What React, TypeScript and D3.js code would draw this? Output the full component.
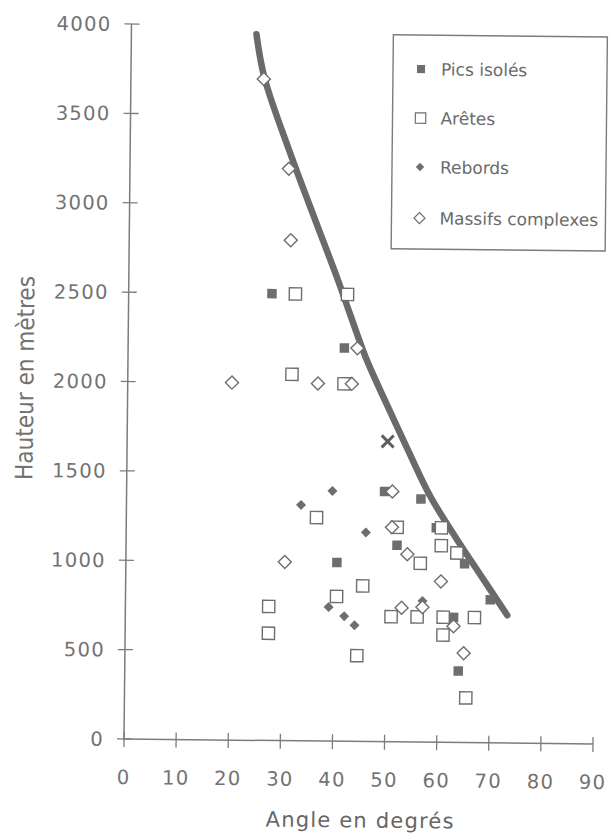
import React from "react";
import * as d3 from "d3";

const W = 610;
const H = 837;
const margin = { top: 24, right: 17, bottom: 98, left: 124 };

// tick labels
const xTicks = [0, 10, 20, 30, 40, 50, 60, 70, 80, 90];
const yTicks = [0, 500, 1000, 1500, 2000, 2500, 3000, 3500, 4000];

// [angle en degrés, hauteur en mètres]
const picsIsoles = [
  [27.5, 2500], [41.5, 2200], [49.5, 1400], [56.5, 1360], [59.5, 1200],
  [52, 1100], [40.5, 1000], [65, 1000], [70, 800], [63, 700], [64, 400],
];
const aretes = [
  [32, 2500], [42, 2500], [31.5, 2050], [41.5, 2000], [36.5, 1250],
  [52, 1200], [60.5, 1200], [60.5, 1100], [63.5, 1060], [56.5, 1000],
  [45.5, 870], [40.5, 810], [27.5, 750], [27.5, 600], [51, 700],
  [56, 700], [61, 700], [67, 700], [61, 600], [44.5, 480], [65.5, 250],
];
const rebords = [
  [39.5, 1400], [33.5, 1320], [46, 1170], [57, 790], [39, 750],
  [42, 700], [44, 650],
];
const massifs = [
  [25.5, 3700], [30.5, 3200], [31, 2800], [44, 2200], [20, 2000],
  [36.5, 2000], [43, 2000], [51, 1400], [51, 1200], [54, 1050],
  [30.5, 1000], [60.5, 900], [53, 750], [57, 755], [63, 650], [65, 500],
];
const croix = [[50, 1680]];

// courbe enveloppe tracée à la main
const enveloppe = [
  [24, 3950], [25.6, 3710], [30.8, 3280], [40, 2590], [42.4, 2400],
  [45.6, 2150], [49.3, 1915], [53.8, 1640], [58.2, 1380], [63.4, 1140],
  [68.5, 920], [73.3, 715],
];

const legendLabels = ["Pics isolés", "Arêtes", "Rebords", "Massifs complexes"];

const grey = "#6e6e6e";
const axisGrey = "#7c7c7c";
const textGrey = "#727272";

// square rotated by 45°, size = width squared
const diamond = {
  draw(ctx: any, size: number) {
    const r = Math.sqrt(size) / 2;
    ctx.moveTo(0, -r);
    ctx.lineTo(r, 0);
    ctx.lineTo(0, r);
    ctx.lineTo(-r, 0);
    ctx.closePath();
  },
};

const symFilledSquare = d3.symbol(d3.symbolSquare, 90)();
const symOpenSquare = d3.symbol(d3.symbolSquare, 150)();
const symFilledDiamond = d3.symbol(diamond as any, 100)();
const symOpenDiamond = d3.symbol(diamond as any, 170)();

const styles = [
  { path: symFilledSquare, fill: grey, stroke: "none" },
  { path: symOpenSquare, fill: "#fff", stroke: grey },
  { path: symFilledDiamond, fill: grey, stroke: "none" },
  { path: symOpenDiamond, fill: "#fff", stroke: grey },
];

export default function App() {
  const x = d3.scaleLinear().domain([0, 90]).range([margin.left, W - margin.right]);
  const y = d3.scaleLinear().domain([0, 4000]).range([H - margin.bottom, margin.top]);

  const line = d3
    .line()
    .x((d) => x(d[0]))
    .y((d) => y(d[1]))
    .curve(d3.curveCatmullRom);

  const x0 = x(0);
  const y0 = y(0);

  const drawSeries = (data: number[][], s: any, key: string) =>
    data.map((d, i) => (
      <path
        key={key + i}
        d={s.path}
        transform={`translate(${x(d[0])},${y(d[1])})`}
        fill={s.fill}
        stroke={s.stroke}
        strokeWidth={1.4}
      />
    ));

  return (
    <svg
      width={W}
      height={H}
      style={{ position: "absolute", left: 0, top: 0, background: "#fff" }}
      fontFamily="'DejaVu Sans', sans-serif"
    >
      <rect width={W} height={H} fill="#fff" />
      <g transform={`rotate(0.6 ${x0} ${y0})`}>
        {/* axes */}
        <line x1={x0} x2={x0} y1={y(4000)} y2={y0} stroke={axisGrey} strokeWidth={1.5} />
        <line x1={x0} x2={x(90)} y1={y0} y2={y0} stroke={axisGrey} strokeWidth={1.5} />
        {yTicks.map((t) => (
          <g key={"y" + t} transform={`translate(0,${y(t)})`}>
            <line x1={x0 - 7} x2={x0 + 8} stroke={axisGrey} strokeWidth={1.3} />
            <text
              x={x0 - 20}
              dy="0.36em"
              textAnchor="end"
              fontSize={19.5}
              letterSpacing={1.3}
              fill={textGrey}
            >
              {t}
            </text>
          </g>
        ))}
        {xTicks.map((t) => (
          <g key={"x" + t} transform={`translate(${x(t)},0)`}>
            <line y1={y0 - 7} y2={y0 + 8} stroke={axisGrey} strokeWidth={1.3} />
            <text
              y={y0 + 38}
              dy="0.36em"
              textAnchor="middle"
              fontSize={19.5}
              letterSpacing={1.3}
              fill={textGrey}
            >
              {t}
            </text>
          </g>
        ))}
        <text
          x={361}
          y={825}
          textAnchor="middle"
          fontSize={21}
          letterSpacing={1.2}
          fill="#666"
        >
          Angle en degrés
        </text>
        <text
          transform="translate(21,379) rotate(-90)"
          dy="0.36em"
          textAnchor="middle"
          fontFamily="'Liberation Sans Narrow', 'DejaVu Sans Condensed', sans-serif"
          fontSize={24}
          fill={textGrey}
        >
          Hauteur en mètres
        </text>

        {/* courbe */}
        <path
          d={line(enveloppe as any) || ""}
          fill="none"
          stroke="#6a6a6a"
          strokeWidth={6.5}
          strokeLinecap="round"
        />

        {drawSeries(picsIsoles, styles[0], "p")}
        {drawSeries(rebords, styles[2], "r")}
        {drawSeries(aretes, styles[1], "a")}
        {drawSeries(massifs, styles[3], "m")}
        {croix.map((d, i) => (
          <g key={"c" + i} transform={`translate(${x(d[0])},${y(d[1])})`}>
            <path d="M-6,-6L6,6M-6,6L6,-6" stroke="#5e5e5e" strokeWidth={3} />
          </g>
        ))}

        {/* légende */}
        <rect x={386} y={32} width={214} height={214} fill="#fff" stroke={axisGrey} strokeWidth={1.4} />
        {legendLabels.map((l, i) => {
          const ly = [66, 115, 164, 215][i];
          const s = styles[i];
          return (
            <g key={l} transform={`translate(414,${ly})`}>
              <path d={s.path} fill={s.fill} stroke={s.stroke} strokeWidth={1.4} transform="scale(0.85)" />
              <text x={20} dy="0.36em" fontSize={17} fill="#6a6a6a">
                {l}
              </text>
            </g>
          );
        })}
      </g>
    </svg>
  );
}
